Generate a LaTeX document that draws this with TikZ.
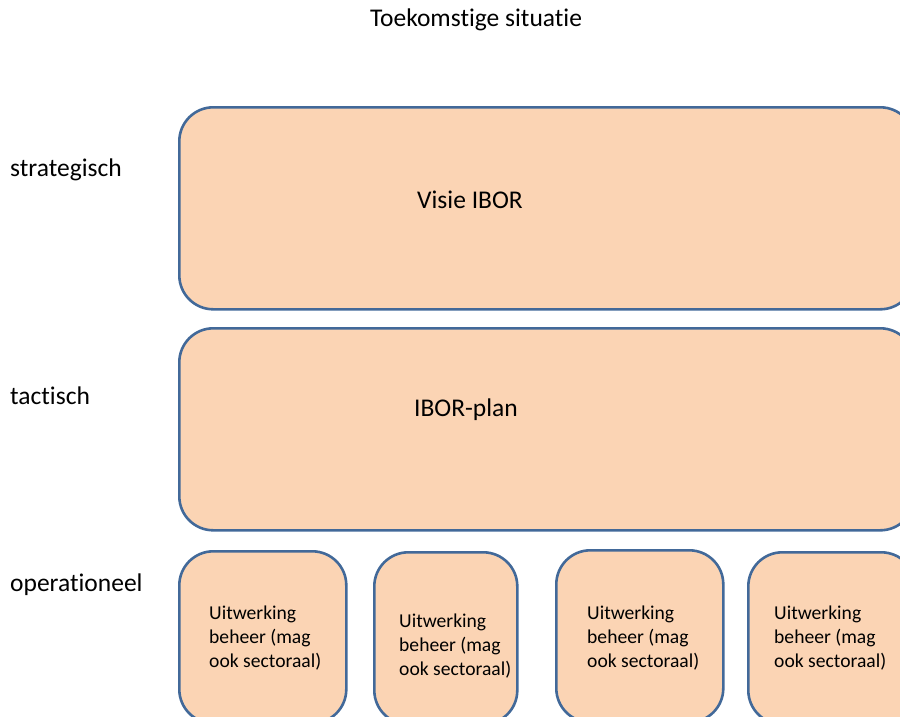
\documentclass[tikz,border=0pt]{standalone}
\usepackage{fontspec}
\setmainfont{Carlito}[Ligatures=CommonOff]
\definecolor{laagvul}{RGB}{251,212,180}
\definecolor{laaglijn}{RGB}{66,105,153}

\tikzset{
  laag/.style={draw=laaglijn, fill=laagvul, line width=2.6pt, rounded corners=34pt,
    anchor=north west, inner sep=0pt},
  groot/.style={font=\fontsize{25.5}{30}\selectfont, inner sep=0pt},
  klein/.style={font=\fontsize{19.6}{24}\selectfont, align=left, anchor=west, inner sep=0pt},
}

\begin{document}
\begin{tikzpicture}[x=1pt,y=-1pt]

            \useasboundingbox (0,0) rectangle (900,716);
            \clip (0,0) rectangle (900,716);

            \node[groot] (titel) at (476,20) {Toekomstige situatie};

            % niveaus
            \node[groot, anchor=base west] (strategisch) at (10,176) {strategisch};
            \node[groot, anchor=base west] (tactisch) at (10,404) {tactisch};
            \node[groot, anchor=base west] (operationeel) at (10,591) {operationeel};

            % lagen
            \node[laag, minimum width=735pt, minimum height=202pt] (visie) at (178,106) {};
            \node[groot] (visietekst) at (470,200) {Visie IBOR};

            \node[laag, minimum width=735pt, minimum height=202pt] (plan) at (178,327) {};
            \node[groot] (plantekst) at (466,410) {IBOR-plan};

            % uitwerking
            \node[laag, minimum width=167pt, minimum height=172pt] (uitA) at (178,550) {};
            \node[laag, minimum width=143pt, minimum height=172pt] (uitB) at (373,551) {};
            \node[laag, minimum width=167pt, minimum height=172pt] (uitC) at (555,549) {};
            \node[laag, minimum width=167pt, minimum height=172pt] (uitD) at (747,551) {};

            \node[klein] (tekstA) at (209,638) {Uitwerking\\beheer (mag\\ook sectoraal)};
            \node[klein] (tekstB) at (399,646) {Uitwerking\\beheer (mag\\ook sectoraal)};
            \node[klein] (tekstC) at (587,638) {Uitwerking\\beheer (mag\\ook sectoraal)};
            \node[klein] (tekstD) at (774,638) {Uitwerking\\beheer (mag\\ook sectoraal)};

\end{tikzpicture}
\end{document}
